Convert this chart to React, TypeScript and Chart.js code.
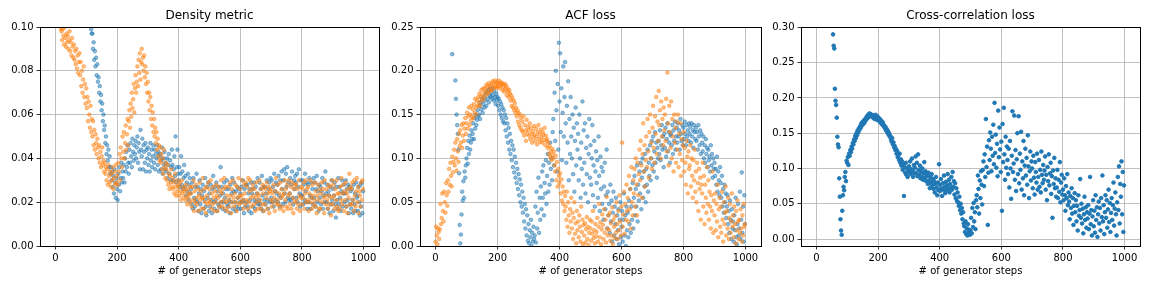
import { useEffect, useRef } from "react";
import { Chart, registerables } from "chart.js";

Chart.register(...registerables);

const N = null;
// one logged value every STEP_EVERY generator steps, starting at step 0
const STEP_EVERY = 2;
const X_TICKS = [0, 200, 400, 600, 800, 1000];

// all values below are in units of 1e-3

// Density metric, run 1 (blue)
const densityBlue: (number | null)[] = [
  N, N, N, N, N, N, N, N, N, N,
  N, N, N, N, N, N, N, N, N, N,
  N, N, N, N, N, N, N, N, N, N,
  N, N, N, N, N, N, N, N, N, N,
  N, N, N, N, N, N, N, N, N, N,
  N, N, N, N, N, N, N, N, 99, 97,
  97, 90, 93, 85, 89, 82, 86, 78, 83, 75,
  77, 70, 73, 66, 69, 62, 65, 57, 60, 53,
  55, 47, 50, 42, 46, 39, 44, 36, 41, 33,
  36, 30, 34, 27, 32, 24, 35, 29, 22, 31,
  26, 21, 33, 28, 36, 25, 31, 38, 29, 34,
  31, 37, 29, 40, 34, 43, 36, 46, 38, 33,
  44, 38, 47, 41, 36, 49, 43, 39, 46, 42,
  48, 40, 45, 50, 38, 47, 43, 35, 53, 44,
  41, 49, 35, 46, 43, 38, 47, 34, 44, 40,
  45, 37, 42, 34, 47, 39, 44, 36, 41, 46,
  38, 44, 35, 42, 40, 46, 37, 43, 34, 41,
  42, 35, 39, 45, 33, 40, 37, 43, 35, 38,
  34, 40, 31, 37, 42, 33, 39, 30, 36, 44,
  37, 30, 35, 41, 32, 50, 29, 36, 44, 33,
  30, 36, 27, 33, 41, 28, 34, 26, 31, 37,
  27, 32, 23, 29, 25, 33, 21, 28, 31, 24,
  26, 19, 29, 17, 31, 22, 18, 27, 21, 33,
  20, 27, 16, 24, 30, 19, 26, 15, 23, 28,
  17, 25, 21, 31, 18, 14, 27, 22, 29, 16,
  24, 18, 28, 21, 15, 26, 32, 20, 17, 27,
  21, 29, 16, 25, 19, 27, 18, 23, 36, 20,
  27, 17, 24, 20, 29, 22, 16, 26, 30, 19,
  18, 26, 21, 15, 28, 20, 24, 31, 17, 25,
  29, 20, 16, 25, 18, 27, 22, 17, 26, 20,
  24, 17, 27, 20, 30, 21, 15, 26, 18, 28,
  20, 28, 18, 24, 16, 26, 21, 29, 15, 24,
  26, 18, 29, 21, 17, 27, 20, 24, 31, 19,
  21, 29, 19, 26, 17, 32, 23, 16, 27, 21,
  27, 19, 24, 30, 21, 17, 26, 29, 20, 31,
  22, 30, 20, 27, 18, 33, 25, 21, 29, 24,
  28, 20, 32, 23, 18, 30, 22, 34, 26, 19,
  30, 35, 24, 20, 33, 27, 36, 22, 29, 21,
  24, 31, 21, 28, 34, 22, 19, 30, 26, 32,
  29, 22, 33, 20, 27, 35, 24, 18, 30, 23,
  23, 30, 19, 28, 21, 33, 25, 20, 29, 17,
  28, 20, 31, 23, 17, 29, 22, 26, 19, 31,
  22, 29, 18, 26, 32, 20, 25, 16, 28, 22,
  27, 19, 25, 31, 17, 23, 29, 20, 34, 24,
  20, 28, 17, 25, 23, 15, 27, 19, 30, 21,
  26, 16, 23, 29, 19, 13, 27, 21, 17, 31,
  19, 27, 22, 16, 25, 30, 18, 24, 28, 20,
  24, 30, 18, 26, 21, 28, 15, 27, 19, 25,
  17, 26, 21, 15, 28, 19, 24, 16, 29, 22,
  23, 16, 27, 20, 14, 28, 18, 29, 15, 25,
];

// Density metric, run 2 (orange)
const densityOrange: (number | null)[] = [
  N, N, N, N, N, N, N, N, N, 99,
  98, 94, 99, 96, 92, 100, 95, 91, 97, 93,
  96, 90, 94, 98, 89, 93, 87, 95, 91, 86,
  92, 85, 89, 83, 90, 81, 87, 79, 84, 88,
  78, 84, 73, 80, 70, 76, 82, 68, 74, 65,
  72, 63, 68, 57, 66, 60, 54, 64, 52, 58,
  50, 57, 46, 53, 44, 51, 47, 42, 49, 45,
  40, 46, 38, 43, 36, 41, 45, 37, 39, 34,
  38, 33, 36, 30, 35, 28, 37, 32, 29, 34,
  27, 33, 30, 36, 26, 31, 34, 28, 37, 29,
  32, 28, 38, 34, 42, 30, 45, 40, 36, 50,
  43, 52, 40, 47, 55, 44, 51, 58, 46, 57,
  62, 54, 65, 59, 70, 63, 67, 74, 61, 72,
  78, 70, 75, 82, 73, 85, 79, 88, 76, 84,
  90, 83, 86, 80, 87, 77, 82, 74, 79, 70,
  75, 66, 70, 62, 68, 58, 64, 55, 61, 52,
  58, 50, 54, 47, 52, 44, 49, 41, 46, 39,
  45, 38, 42, 35, 40, 33, 44, 36, 31, 38,
  35, 30, 37, 28, 33, 26, 32, 29, 35, 27,
  31, 26, 29, 24, 33, 27, 23, 30, 25, 28,
  27, 23, 29, 25, 21, 30, 24, 27, 22, 26,
  25, 21, 28, 23, 19, 26, 22, 24, 20, 27,
  24, 18, 27, 21, 30, 16, 25, 20, 28, 22,
  19, 26, 16, 23, 29, 21, 25, 17, 22, 31,
  22, 17, 26, 20, 15, 27, 23, 19, 29, 21,
  26, 20, 30, 17, 24, 19, 27, 22, 16, 25,
  20, 28, 23, 16, 22, 27, 18, 25, 20, 30,
  24, 18, 26, 21, 31, 17, 27, 20, 23, 16,
  27, 21, 18, 29, 23, 15, 26, 20, 30, 22,
  18, 24, 28, 20, 16, 27, 22, 31, 19, 23,
  26, 20, 23, 30, 21, 17, 28, 24, 19, 29,
  21, 27, 17, 31, 20, 25, 30, 22, 18, 26,
  28, 23, 19, 26, 16, 22, 29, 20, 24, 17,
  23, 30, 21, 17, 26, 19, 28, 24, 16, 27,
  19, 26, 22, 29, 17, 24, 27, 15, 25, 21,
  26, 18, 24, 20, 28, 22, 16, 25, 31, 19,
  21, 28, 19, 24, 17, 29, 22, 26, 18, 23,
  16, 24, 30, 21, 26, 18, 28, 17, 23, 30,
  24, 19, 27, 17, 29, 22, 15, 26, 20, 28,
  28, 21, 17, 26, 19, 30, 23, 16, 22, 27,
  19, 26, 22, 29, 17, 24, 30, 20, 26, 21,
  27, 16, 24, 20, 30, 22, 17, 28, 23, 19,
  21, 29, 18, 25, 15, 23, 28, 21, 17, 26,
  17, 24, 29, 20, 26, 22, 15, 30, 23, 19,
  26, 21, 17, 28, 23, 19, 27, 14, 22, 30,
  19, 28, 23, 17, 26, 21, 30, 18, 24, 16,
  24, 17, 27, 21, 31, 19, 24, 28, 16, 25,
  21, 29, 18, 24, 15, 26, 22, 33, 19, 27,
  26, 19, 29, 21, 16, 30, 23, 18, 25, 31,
  20, 27, 15, 25, 23, 18, 29, 21, 30, 26,
];

// ACF loss, run 1 (blue)
const acfBlue: (number | null)[] = [
  N, N, N, N, N, N, N, N, N, N,
  N, N, N, N, N, N, N, N, N, N,
  N, N, N, N, N, N, N, 219, N, N,
  N, N, 189, 168, 150, 138, 128, 110, 83, 24,
  3, 13, 36, 62, 52, 74, 55, 85, 78, 92,
  100, 112, 94, 120, 105, 126, 110, 118, 132, 122,
  128, 140, 122, 146, 134, 150, 138, 144, 155, 148,
  150, 160, 145, 164, 156, 168, 152, 162, 170, 158,
  166, 174, 160, 176, 168, 178, 164, 172, 180, 170,
  175, 168, 180, 172, 166, 177, 170, 162, 174, 167,
  170, 160, 168, 155, 165, 150, 162, 146, 158, 142,
  155, 140, 150, 132, 146, 125, 140, 118, 135, 110,
  128, 105, 120, 98, 115, 90, 110, 84, 102, 78,
  95, 72, 88, 65, 82, 58, 76, 50, 70, 45,
  62, 38, 55, 28, 48, 20, 42, 12, 35, 6,
  25, 3, 18, 10, 30, 0, 15, 5, 22, 8,
  12, 45, 4, 62, 20, 38, 78, 15, 55, 30,
  68, 42, 85, 55, 92, 35, 72, 60, 98, 48,
  80, 105, 62, 95, 70, 118, 88, 100, 75, 130,
  145, 92, 175, 120, 200, 155, 85, 185, 110, 232,
  165, 220, 130, 180, 98, 152, 205, 125, 170, 210,
  140, 95, 160, 118, 188, 75, 145, 105, 170, 125,
  100, 150, 82, 135, 62, 120, 158, 92, 140, 110,
  128, 75, 150, 100, 55, 118, 88, 165, 70, 132,
  95, 140, 60, 112, 82, 125, 50, 105, 145, 78,
  115, 70, 100, 138, 58, 92, 120, 45, 85, 108,
  72, 98, 55, 125, 80, 40, 102, 65, 90, 48,
  85, 30, 68, 95, 42, 58, 110, 20, 62, 35,
  48, 15, 70, 28, 52, 5, 38, 62, 12, 45,
  25, 55, 8, 35, 18, 42, 2, 30, 50, 10,
  22, 40, 5, 30, 60, 12, 35, 0, 45, 18,
  38, 10, 52, 25, 65, 15, 45, 30, 72, 20,
  55, 80, 35, 65, 45, 92, 28, 70, 52, 85,
  60, 95, 42, 78, 100, 55, 85, 68, 105, 50,
  88, 70, 110, 62, 95, 80, 115, 75, 100, 120,
  92, 125, 85, 108, 130, 95, 118, 78, 112, 100,
  120, 105, 132, 98, 115, 138, 110, 125, 90, 128,
  112, 135, 102, 122, 140, 108, 130, 118, 95, 126,
  128, 115, 138, 105, 132, 120, 142, 110, 125, 135,
  118, 140, 125, 132, 110, 145, 128, 120, 138, 115,
  135, 122, 142, 128, 115, 138, 125, 132, 120, 140,
  128, 136, 118, 140, 125, 132, 112, 138, 130, 122,
  135, 120, 130, 110, 138, 125, 115, 132, 105, 128,
  118, 108, 125, 100, 115, 95, 122, 105, 112, 90,
  110, 98, 102, 85, 115, 92, 105, 78, 100, 88,
  95, 80, 88, 70, 102, 62, 85, 75, 58, 90,
  72, 55, 80, 45, 65, 38, 70, 50, 60, 32,
  45, 58, 25, 40, 15, 52, 30, 8, 42, 20,
  28, 5, 35, 18, 55, 10, 2, 25, 48, 12,
  20, 62, 8, 30, 84, 15, 45, 5, 58, 25,
];

// ACF loss, run 2 (orange)
const acfOrange: (number | null)[] = [
  5, 22, 12, 2, 20, 16, 8, 19, 48, 25,
  32, 60, 40, 28, 62, 50, 38, 72, 58, 46,
  75, 62, 88, 70, 95, 80, 68, 102, 84, 96,
  110, 92, 118, 100, 86, 122, 108, 96, 128, 114,
  132, 118, 138, 112, 126, 140, 120, 134, 146, 128,
  140, 152, 134, 148, 158, 138, 150, 143, 160, 147,
  156, 146, 162, 152, 168, 158, 150, 166, 160, 170,
  164, 174, 160, 170, 178, 166, 172, 180, 168, 176,
  180, 172, 184, 176, 182, 174, 186, 179, 183, 177,
  185, 178, 188, 182, 186, 180, 189, 183, 187, 181,
  186, 182, 189, 184, 180, 187, 183, 186, 178, 185,
  182, 176, 185, 179, 183, 172, 180, 176, 170, 178,
  174, 166, 172, 160, 169, 158, 166, 155, 163, 152,
  158, 148, 155, 142, 152, 138, 150, 135, 146, 132,
  142, 130, 148, 126, 138, 132, 120, 144, 128, 136,
  132, 126, 140, 122, 135, 128, 118, 131, 124, 137,
  127, 120, 134, 125, 116, 130, 138, 122, 128, 119,
  133, 124, 118, 130, 127, 121, 135, 115, 126, 120,
  122, 112, 118, 105, 114, 102, 108, 98, 111, 104,
  100, 108, 92, 85, 103, 75, 96, 68, 88, 80,
  72, 83, 60, 76, 52, 68, 48, 62, 40, 57,
  45, 30, 62, 22, 50, 35, 15, 42, 28, 55,
  20, 38, 8, 32, 50, 14, 26, 3, 40, 18,
  28, 10, 35, 22, 5, 45, 16, 30, 2, 24,
  12, 26, 4, 19, 33, 8, 22, 1, 15, 30,
  20, 6, 28, 14, 40, 9, 18, 3, 25, 11,
  16, 32, 5, 22, 48, 10, 27, 2, 19, 36,
  24, 8, 42, 15, 30, 4, 56, 20, 12, 35,
  18, 38, 6, 26, 12, 44, 2, 30, 22, 9,
  34, 15, 50, 25, 8, 40, 18, 58, 28, 12,
  45, 118, 22, 36, 62, 14, 48, 30, 70, 40,
  55, 28, 80, 42, 65, 20, 90, 50, 35, 75,
  60, 88, 45, 100, 70, 35, 95, 58, 82, 110,
  75, 120, 92, 55, 105, 140, 85, 115, 68, 98,
  125, 90, 145, 108, 78, 130, 150, 100, 118, 88,
  135, 160, 112, 95, 148, 128, 170, 105, 142, 120,
  177, 138, 155, 100, 165, 125, 145, 115, 158, 132,
  150, 120, 168, 108, 198, 140, 92, 160, 130, 112,
  165, 100, 145, 125, 85, 150, 118, 135, 95, 142,
  110, 150, 90, 128, 105, 140, 80, 122, 98, 115,
  130, 85, 112, 95, 70, 120, 102, 60, 108, 88,
  92, 115, 68, 100, 80, 55, 98, 75, 110, 62,
  85, 50, 95, 72, 40, 88, 65, 78, 30, 70,
  60, 95, 45, 80, 25, 70, 55, 38, 90, 48,
  75, 30, 62, 45, 20, 58, 40, 85, 15, 52,
  35, 60, 18, 48, 28, 70, 10, 42, 55, 22,
  45, 15, 62, 30, 5, 50, 25, 38, 68, 12,
  40, 20, 55, 8, 32, 48, 15, 28, 60, 22,
  35, 10, 45, 25, 3, 40, 18, 52, 28, 8,
  30, 15, 42, 20, 5, 35, 12, 48, 22, 25,
];

// Cross-correlation loss (blue)
const crossCorr: (number | null)[] = [
  N, N, N, N, N, N, N, N, N, N,
  N, N, N, N, N, N, N, N, N, N,
  N, N, N, N, N, N, N, 290, 274, 270,
  213, 196, 190, 172, 145, 134, 130, 86, 60, 28,
  12, 6, 40, 62, 74, 69, 88, 95, 82, 111,
  108, 116, 105, 121, 118, 126, 123, 131, 128, 136,
  134, 141, 139, 146, 143, 150, 147, 154, 151, 157,
  155, 160, 158, 164, 161, 166, 163, 168, 165, 170,
  168, 172, 174, 171, 176, 173, 178, 175, 177, 174,
  176, 173, 175, 171, 174, 170, 176, 172, 169, 174,
  172, 168, 171, 166, 169, 164, 167, 162, 165, 160,
  161, 157, 159, 154, 156, 151, 153, 148, 150, 145,
  146, 141, 138, 143, 134, 137, 130, 132, 126, 128,
  121, 125, 116, 119, 112, 121, 108, 113, 104, 110,
  98, 106, 61, 102, 94, 108, 91, 100, 88, 96,
  103, 95, 110, 92, 99, 114, 97, 88, 105, 93,
  101, 117, 94, 108, 89, 120, 98, 91, 104, 86,
  95, 88, 100, 84, 93, 109, 87, 96, 82, 91,
  89, 78, 94, 83, 72, 88, 80, 92, 76, 85,
  71, 82, 66, 78, 88, 73, 62, 80, 69, 106,
  77, 68, 85, 72, 61, 79, 70, 90, 74, 65,
  81, 69, 76, 92, 71, 84, 66, 78, 73, 88,
  70, 95, 74, 82, 63, 79, 58, 72, 54, 66,
  52, 47, 60, 41, 50, 36, 44, 28, 38, 22,
  18, 10, 25, 7, 15, 5, 21, 9, 13, 6,
  12, 30, 8, 44, 17, 51, 25, 38, 14, 55,
  62, 45, 90, 71, 36, 83, 58, 96, 77, 49,
  98, 110, 75, 120, 88, 170, 102, 131, 20, 94,
  140, 112, 151, 128, 96, 145, 118, 162, 106, 193,
  122, 148, 101, 135, 89, 182, 116, 158, 127, 95,
  138, 40, 163, 109, 186, 120, 84, 145, 101, 131,
  112, 92, 128, 73, 139, 100, 57, 118, 181, 95,
  107, 175, 84, 126, 68, 113, 150, 92, 174, 79,
  121, 98, 152, 70, 110, 86, 139, 62, 104, 128,
  90, 115, 77, 147, 103, 58, 96, 124, 83, 110,
  100, 72, 118, 87, 63, 109, 95, 80, 121, 70,
  88, 112, 74, 98, 66, 124, 91, 79, 105, 84,
  97, 117, 70, 91, 55, 102, 82, 120, 76, 93,
  108, 64, 89, 30, 97, 78, 115, 72, 86, 60,
  73, 98, 58, 84, 67, 109, 52, 80, 91, 63,
  70, 55, 86, 62, 40, 75, 58, 92, 48, 66,
  53, 28, 61, 44, 72, 36, 58, 20, 47, 65,
  38, 55, 25, 47, 12, 62, 33, 41, 85, 30,
  50, 22, 43, 8, 35, 60, 27, 45, 16, 38,
  29, 48, 14, 36, 88, 21, 41, 5, 32, 55,
  18, 40, 9, 62, 27, 45, 3, 35, 53, 22,
  44, 12, 58, 31, 90, 25, 48, 7, 38, 62,
  30, 55, 16, 42, 70, 24, 51, 10, 37, 58,
  27, 48, 80, 19, 43, 66, 35, 5, 52, 88,
  41, 103, 22, 78, 60, 110, 35, 95, 10, 76,
];

const BLUE = "31,119,180";
const ORANGE = "255,127,14";

type Series = { values: (number | null)[]; rgb: string; alpha: number };
type Panel = {
  title: string;
  canvasLeft: number;
  yAxisWidth: number;
  padRight: number;
  yMin: number;
  yMax: number;
  yTicks: number[];
  series: Series[];
};

const PANELS: Panel[] = [
  {
    title: "Density metric",
    canvasLeft: 0,
    yAxisWidth: 40,
    padRight: 5,
    yMin: 0,
    yMax: 0.1,
    yTicks: [0, 0.02, 0.04, 0.06, 0.08, 0.1],
    series: [
      { values: densityOrange, rgb: ORANGE, alpha: 0.5 },
      { values: densityBlue, rgb: BLUE, alpha: 0.5 },
    ],
  },
  {
    title: "ACF loss",
    canvasLeft: 384,
    yAxisWidth: 36,
    padRight: 7,
    yMin: 0,
    yMax: 0.25,
    yTicks: [0, 0.05, 0.1, 0.15, 0.2, 0.25],
    series: [
      { values: acfOrange, rgb: ORANGE, alpha: 0.5 },
      { values: acfBlue, rgb: BLUE, alpha: 0.5 },
    ],
  },
  {
    title: "Cross-correlation loss",
    canvasLeft: 768,
    yAxisWidth: 33,
    padRight: 12,
    yMin: -0.0099,
    yMax: 0.3005,
    yTicks: [0, 0.05, 0.1, 0.15, 0.2, 0.25, 0.3],
    series: [{ values: crossCorr, rgb: BLUE, alpha: 1 }],
  },
];

const CANVAS_W = 384;
const CANVAS_H = 288;
const FONT = "'DejaVu Sans', 'Liberation Sans', sans-serif";

function toPoints(values: (number | null)[]) {
  const pts: { x: number; y: number }[] = [];
  values.forEach((v, i) => {
    if (v !== null) pts.push({ x: i * STEP_EVERY, y: v / 1000 });
  });
  return pts;
}

const framePlugin = {
  id: "frame",
  afterDraw(chart: any, _args: any, opts: any) {
    const { ctx, chartArea } = chart;
    const { left, right, top, bottom } = chartArea;
    ctx.save();
    ctx.strokeStyle = "#000";
    ctx.lineWidth = 1;
    ctx.strokeRect(left + 0.5, top + 0.5, right - left, bottom - top);
    ctx.fillStyle = "#000";
    ctx.textAlign = "center";
    ctx.textBaseline = "middle";
    ctx.font = `12px ${FONT}`;
    ctx.fillText(opts.title, (left + right) / 2, 16);
    ctx.font = `10px ${FONT}`;
    ctx.fillText("# of generator steps", (left + right) / 2, 271);
    ctx.restore();
  },
};

function PanelChart({ panel }: { panel: Panel }) {
  const ref = useRef<HTMLCanvasElement | null>(null);
  useEffect(() => {
    if (!ref.current) return;
    const chart = new Chart(ref.current, {
      type: "scatter",
      data: {
        datasets: panel.series.map((s) => ({
          data: toPoints(s.values),
          backgroundColor: `rgba(${s.rgb},${s.alpha})`,
          borderColor: `rgba(${s.rgb},${s.alpha})`,
          borderWidth: 1,
          pointRadius: 1.8,
          pointHoverRadius: 1.8,
          clip: 0,
        })),
      },
      options: {
        responsive: false,
        animation: false,
        devicePixelRatio: 1,
        events: [],
        layout: { padding: { top: 27, right: panel.padRight, left: 0, bottom: 0 } },
        plugins: {
          legend: { display: false },
          tooltip: { enabled: false },
          frame: { title: panel.title },
        } as any,
        scales: {
          x: {
            type: "linear",
            min: -50,
            max: 1050,
            afterBuildTicks: (s: any) => {
              s.ticks = X_TICKS.map((v) => ({ value: v }));
            },
            afterFit: (s: any) => {
              s.height = 42;
            },
            ticks: {
              color: "#000",
              font: { family: FONT, size: 10 },
              padding: 3,
              maxRotation: 0,
              autoSkip: false,
              callback: (v: any) => String(v),
            },
            grid: {
              color: "#b0b0b0",
              lineWidth: 0.8,
              tickColor: "#000",
              tickLength: 3.5,
              tickWidth: 0.8,
            },
            border: { display: false },
          },
          y: {
            type: "linear",
            min: panel.yMin,
            max: panel.yMax,
            afterBuildTicks: (s: any) => {
              s.ticks = panel.yTicks.map((v) => ({ value: v }));
            },
            afterFit: (s: any) => {
              s.width = panel.yAxisWidth;
            },
            ticks: {
              color: "#000",
              font: { family: FONT, size: 10 },
              padding: 3,
              autoSkip: false,
              callback: (v: any) => Number(v).toFixed(2),
            },
            grid: {
              color: "#b0b0b0",
              lineWidth: 0.8,
              tickColor: "#000",
              tickLength: 3.5,
              tickWidth: 0.8,
            },
            border: { display: false },
          },
        },
      } as any,
      plugins: [framePlugin],
    });
    return () => chart.destroy();
  }, [panel]);
  return (
    <canvas
      ref={ref}
      width={CANVAS_W}
      height={CANVAS_H}
      style={{
        position: "absolute",
        left: panel.canvasLeft,
        top: 0,
        width: CANVAS_W,
        height: CANVAS_H,
      }}
    />
  );
}

export default function App() {
  return (
    <div
      style={{
        position: "absolute",
        left: 0,
        top: 0,
        width: 1152,
        height: 288,
        background: "#fff",
        overflow: "hidden",
      }}
    >
      {PANELS.map((p) => (
        <PanelChart key={p.title} panel={p} />
      ))}
    </div>
  );
}
